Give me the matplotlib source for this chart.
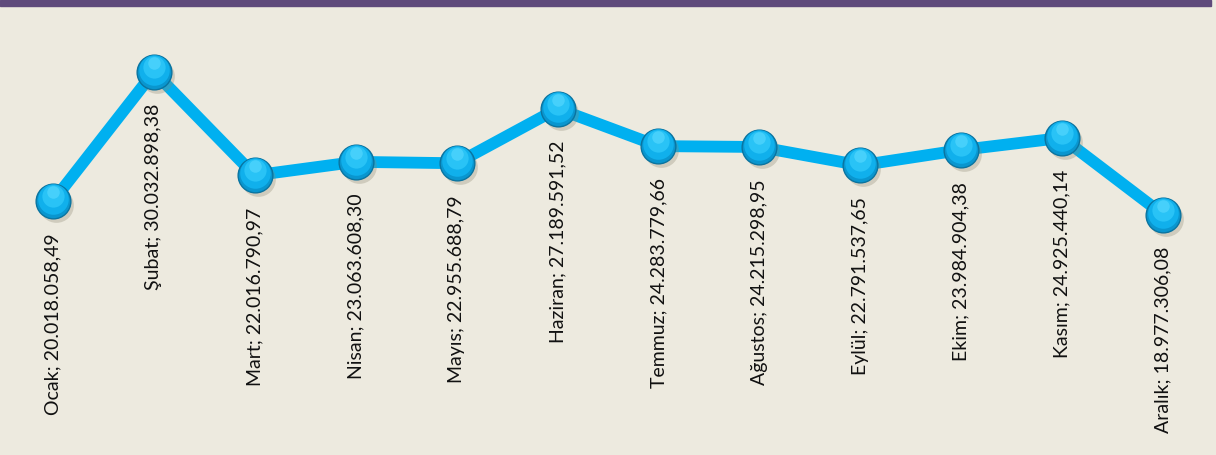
import matplotlib
matplotlib.use("Agg")
import matplotlib.pyplot as plt
from matplotlib.patches import Rectangle
import matplotlib.transforms as mtransforms

months = ["Ocak", "Şubat", "Mart", "Nisan", "Mayıs", "Haziran",
          "Temmuz", "Ağustos", "Eylül", "Ekim", "Kasım", "Aralık"]
values = [20018058.49, 30032898.38, 22016790.97, 23063608.30, 22955688.79,
          27189591.52, 24283779.66, 24215298.95, 22791537.65, 23984904.38,
          24925440.14, 18977306.08]
value_labels = ["20.018.058,49", "30.032.898,38", "22.016.790,97", "23.063.608,30",
                "22.955.688,79", "27.189.591,52", "24.283.779,66", "24.215.298,95",
                "22.791.537,65", "23.984.904,38", "24.925.440,14", "18.977.306,08"]

bg = "#EDEADF"
fig = plt.figure(figsize=(12.16, 4.55), dpi=100, facecolor=bg)
ax = fig.add_axes([0, 0, 1, 1])
ax.set_facecolor(bg)
ax.set_axis_off()

x = list(range(len(values)))
ax.set_xlim(-0.525, 11.525)
ax.set_ylim(0.34e6, 35.61e6)

ax.plot(x, values, color="#00B0F0", lw=8.5, solid_capstyle="round", zorder=2)

# shadow
shadow = mtransforms.offset_copy(ax.transData, fig=fig, x=3, y=-4, units="dots")
ax.plot(x, values, "o", ms=25, color="#8a8670", alpha=0.3, mec="none",
        transform=shadow, zorder=3)
ax.plot(x, values, "o", ms=25, color="#0996CF", mec="#0A74A0", mew=1.0, zorder=4)
sh1 = mtransforms.offset_copy(ax.transData, fig=fig, x=0, y=2, units="dots")
ax.plot(x, values, "o", ms=22, color="#10B0EC", mec="none", transform=sh1, zorder=5)
hl = mtransforms.offset_copy(ax.transData, fig=fig, x=0, y=5, units="dots")
ax.plot(x, values, "o", ms=16, color="#2CC6F8", mec="none", alpha=0.9,
        transform=hl, zorder=6)
hl2 = mtransforms.offset_copy(ax.transData, fig=fig, x=0, y=9, units="dots")
ax.plot(x, values, "o", ms=9, color="#5ADAFF", mec="none", alpha=0.6,
        transform=hl2, zorder=7)

for xi, v, m, lab in zip(x, values, months, value_labels):
    ax.annotate(f"{m}; {lab}", (xi, v), xytext=(0, -23), textcoords="offset points",
                rotation=90, ha="center", va="top", fontsize=14,
                family=["Lato", "DejaVu Sans"], color="#111111")

fig.patches.append(Rectangle((0, 1 - 6 / 455), 1211 / 1216, 6 / 455,
                             transform=fig.transFigure, color="#5F4A7B", zorder=10))

fig.savefig("out.png", dpi=100, facecolor=bg)
